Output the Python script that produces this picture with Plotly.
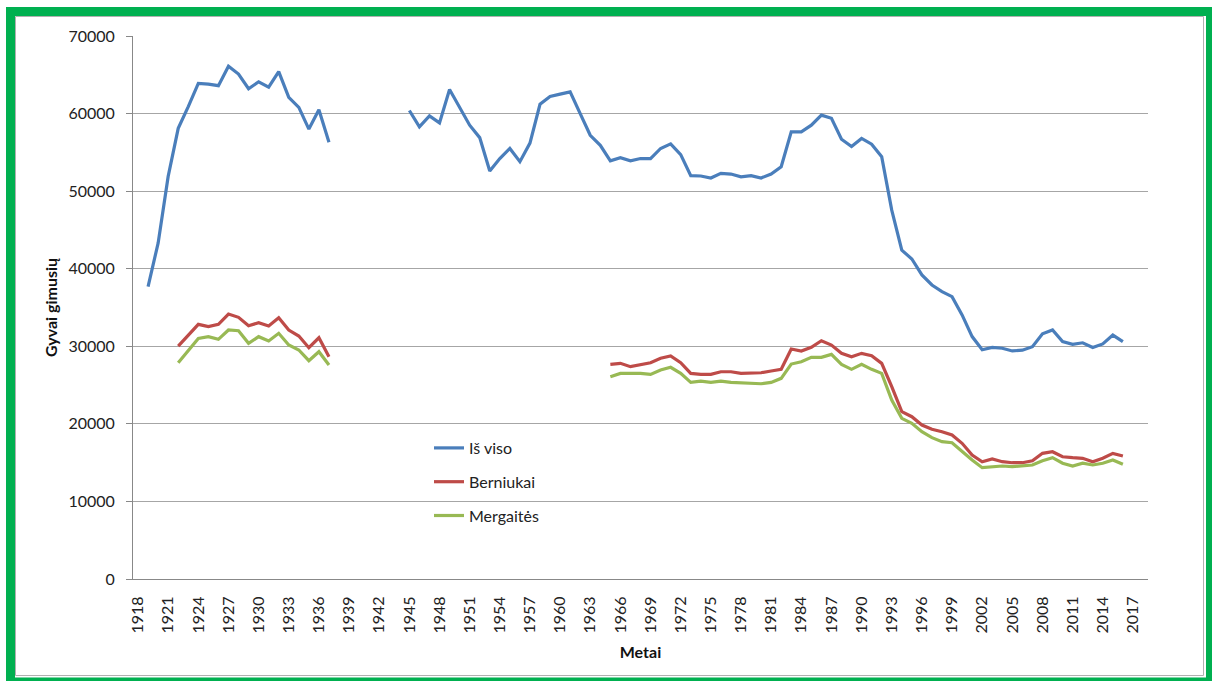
import plotly.graph_objects as go

# ---------------- data ----------------
years_total_prewar = list(range(1919, 1938))
total_prewar = [37700, 43300, 51900, 58100, 60900, 63900, 63800, 63600, 66100, 65100,
                63200, 64100, 63400, 65400, 62100, 60800, 58000, 60500, 56300]

years_total_postwar = list(range(1945, 2017))
total_postwar = [60400, 58300, 59700, 58800, 63100, 60900, 58500, 56900, 52600, 54200,
                 55500, 53800, 56200, 61200, 62200, 62500, 62800, 60000, 57200, 55900,
                 53900, 54300, 53900, 54200, 54200, 55500, 56100, 54700, 52000, 51950,
                 51700, 52300, 52200, 51850, 52000, 51700, 52200, 53150, 57650, 57650,
                 58500, 59800, 59400, 56700, 55750, 56800, 56050, 54450, 47550, 42400,
                 41250, 39200, 37900, 37050, 36400, 34050, 31250, 29550, 29850, 29750,
                 29400, 29500, 29950, 31600, 32100, 30600, 30250, 30450, 29850, 30300,
                 31450, 30600]

years_sex_prewar = list(range(1922, 1938))
boys_prewar = [30030, 31450, 32830, 32530, 32830, 34160, 33730, 32650, 33040, 32610,
               33680, 32100, 31320, 29820, 31100, 28660]
girls_prewar = [27880, 29520, 31020, 31240, 30900, 32100, 32010, 30380, 31240, 30680,
                31670, 30160, 29520, 28140, 29300, 27580]

years_sex_postwar = list(range(1965, 2017))
boys_postwar = [27670, 27800, 27370, 27670, 27880, 28450, 28750, 27880, 26510, 26380,
                26380, 26720, 26720, 26510, 26510, 26590, 26810, 27030, 29650, 29390,
                29870, 30720, 30160, 29090, 28650, 29090, 28780, 27800, 24790, 21570,
                20920, 19850, 19300, 18990, 18560, 17490, 15980, 15120, 15470, 15120,
                14990, 14990, 15250, 16200, 16410, 15760, 15640, 15560, 15120, 15560,
                16200, 15860]
girls_postwar = [26080, 26510, 26510, 26510, 26380, 26940, 27290, 26510, 25350, 25520,
                 25350, 25520, 25350, 25300, 25300, 25170, 25350, 25870, 27710, 28010,
                 28580, 28580, 28960, 27670, 27030, 27670, 27030, 26510, 23070, 20710,
                 20070, 18990, 18220, 17700, 17570, 16410, 15340, 14350, 14480, 14570,
                 14480, 14570, 14700, 15250, 15640, 14920, 14570, 14920, 14700, 14920,
                 15340, 14790]

tick_years = [1918, 1921, 1924, 1927, 1930, 1933, 1936, 1939, 1942, 1945, 1948, 1951,
              1954, 1957, 1960, 1963, 1966, 1969, 1972, 1975, 1978, 1981, 1984, 1987,
              1990, 1993, 1996, 1999, 2002, 2005, 2008, 2011, 2014, 2017]

series_names = ["Iš viso", "Berniukai", "Mergaitės"]
series_colors = ["#4A7EBB", "#BE4B48", "#98B954"]


def join(xa, ya, xb, yb):
    # two segments separated by a gap
    return xa + [None] + xb, ya + [None] + yb


FONT = "Lato, 'Open Sans', sans-serif"
W, H = 1212, 681
L, R, T, B = 133, 1148, 36, 579

fig = go.Figure()
segs = [
    join(years_total_prewar, total_prewar, years_total_postwar, total_postwar),
    join(years_sex_prewar, boys_prewar, years_sex_postwar, boys_postwar),
    join(years_sex_prewar, girls_prewar, years_sex_postwar, girls_postwar),
]
for i, (xs, ys) in enumerate(segs):
    fig.add_trace(go.Scatter(
        x=xs, y=ys, mode="lines", name=series_names[i], legendgroup=f"g{i}",
        line=dict(color=series_colors[i], width=3.2), connectgaps=False,
    ))


def px_x(p):
    return (p - L) / (R - L)


def px_y(p):
    return (B - p) / (B - T)


shapes = [
    # green frame
    dict(type="rect", xref="paper", yref="paper",
         x0=px_x(10.5), x1=px_x(1210.5), y0=px_y(682), y1=px_y(11.5),
         line=dict(color="#00B050", width=9), fillcolor="rgba(0,0,0,0)", layer="below"),
    # thin grey inner edge (shadow)
    dict(type="rect", xref="paper", yref="paper",
         x0=px_x(15.5), x1=px_x(1203.5), y0=px_y(675.5), y1=px_y(16.5),
         line=dict(color="#B0B0B0", width=1), fillcolor="rgba(0,0,0,0)", layer="below"),
]

fig.update_layout(
    width=W, height=H,
    margin=dict(l=L, r=W - R, t=T, b=H - B, pad=0, autoexpand=False),
    paper_bgcolor="white", plot_bgcolor="white",
    font=dict(family=FONT, size=16, color="#222222"),
    showlegend=True,
    legend=dict(x=px_x(429), y=px_y(431), xanchor="left", yanchor="top",
                bgcolor="rgba(0,0,0,0)", font=dict(family=FONT, size=16, color="#222222"),
                traceorder="grouped", tracegroupgap=10, itemwidth=30),
    shapes=shapes,
    xaxis=dict(
        range=[1917.5, 2018.5], tickmode="array", tickvals=tick_years,
        ticktext=[str(t) for t in tick_years], tickangle=-90,
        showgrid=False, zeroline=False, showline=True, linecolor="#888888", linewidth=1,
        ticks="", ticklabelstandoff=10,
        tickfont=dict(family=FONT, size=16, color="#222222"),
        title=dict(text="<b>Metai</b>", standoff=14,
                   font=dict(family=FONT, size=16, color="#111111")),
    ),
    yaxis=dict(
        range=[0, 70000], dtick=10000, tickformat="d",
        showgrid=True, gridcolor="#A6A6A6", gridwidth=1, zeroline=False,
        showline=True, linecolor="#888888", linewidth=1,
        ticks="outside", ticklen=6, tickcolor="#888888", ticklabelstandoff=8,
        tickfont=dict(family=FONT, size=16, color="#222222"),
        title=dict(text="<b>Gyvai gimusių</b>", standoff=6,
                   font=dict(family=FONT, size=16, color="#111111")),
    ),
)

fig.write_html(
    "out.html",
    config={"displayModeBar": False},
    post_script="document.body.style.margin='0';document.body.style.overflow='hidden';",
)
